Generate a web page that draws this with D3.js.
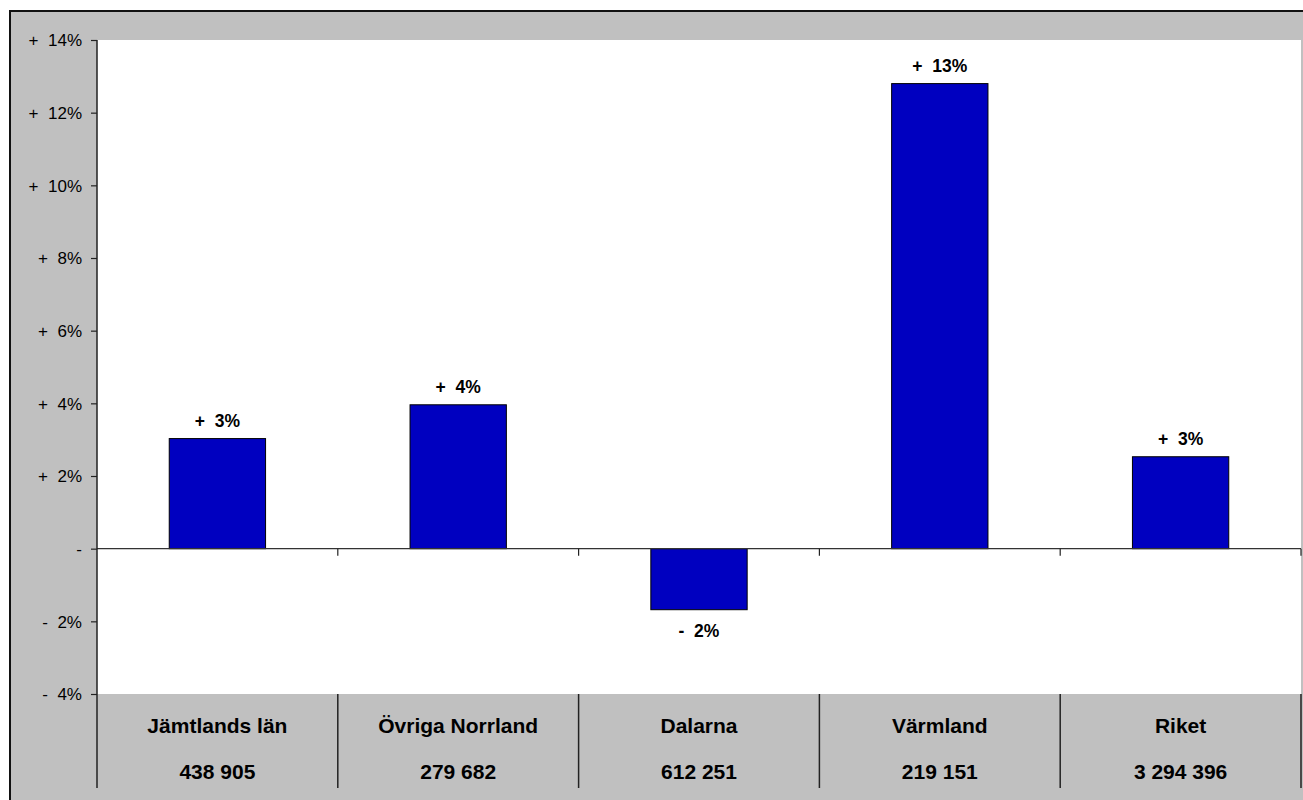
<!DOCTYPE html>
<html><head><meta charset="utf-8">
<script src="https://cdn.jsdelivr.net/npm/d3@7"></script>
<style>
html,body{margin:0;padding:0;background:#fff;overflow:hidden}
text{font-family:"Liberation Sans",Arial,sans-serif;white-space:pre}
</style></head><body>
<svg id="chart" width="1303" height="800"></svg>
<script>
const categories = ["Jämtlands län","Övriga Norrland","Dalarna","Värmland","Riket"];
const totals = ["438 905","279 682","612 251","219 151","3 294 396"];
const changes = [3.03, 3.96, -1.68, 12.8, 2.53];
const yTicks = [-4,-2,0,2,4,6,8,10,12,14];

const svg = d3.select("#chart");
const L = 97, R = 1301, T = 40, B = 694;

// outer grey frame
svg.append("rect").attr("x",10).attr("y",11).attr("width",1303).attr("height",800)
  .attr("fill","#c0c0c0").attr("stroke","#111").attr("stroke-width",2);

const y = d3.scaleLinear().domain([-4,14]).range([B,T]);
const x = d3.scaleBand().domain(categories).range([L,R]).paddingInner(0.6).paddingOuter(0.3);
const step = x.step();

// plot area
svg.append("rect").attr("x",L).attr("y",T).attr("width",R-L).attr("height",B-T).attr("fill","#fff");

// bars
svg.append("g").selectAll("rect").data(changes).join("rect")
  .attr("x",(d,i)=>x(categories[i]))
  .attr("width",x.bandwidth())
  .attr("y",d=>y(Math.max(0,d)))
  .attr("height",d=>Math.abs(y(d)-y(0)))
  .attr("fill","#0000c0").attr("stroke","#000").attr("stroke-width",1);

// zero line
svg.append("line").attr("x1",L).attr("x2",R).attr("y1",y(0)).attr("y2",y(0))
  .attr("stroke","#333").attr("stroke-width",1.2);

// category boundary ticks on zero line and separators below plot
const bounds = d3.range(1,categories.length+1).map(i=>L+i*step);
svg.append("g").selectAll("line").data(bounds).join("line")
  .attr("x1",d=>d).attr("x2",d=>d).attr("y1",y(0)).attr("y2",y(0)+7)
  .attr("stroke","#222").attr("stroke-width",1.2);
svg.append("g").selectAll("line").data(bounds).join("line")
  .attr("x1",d=>d).attr("x2",d=>d).attr("y1",B).attr("y2",788)
  .attr("stroke","#222").attr("stroke-width",1.5);

// y axis
const fmt = v => v===0 ? "-" : (v>0 ? "+  " : "-  ") + Math.abs(v) + "%";
const yAxis = svg.append("g").attr("transform",`translate(${L},0)`)
  .call(d3.axisLeft(y).tickValues(yTicks).tickSize(6).tickPadding(9).tickFormat(fmt));
yAxis.select(".domain").remove();
yAxis.selectAll(".tick line").attr("stroke","#222").attr("stroke-width",1.2);
yAxis.selectAll(".tick text").attr("font-size",17).attr("fill","#000")
  .attr("font-family","Liberation Sans, Arial, sans-serif").attr("dy","0.34em");
svg.append("line").attr("x1",L).attr("x2",L).attr("y1",T).attr("y2",788)
  .attr("stroke","#222").attr("stroke-width",1.5);

// value labels
const vfmt = v => (v>=0 ? "+  " : "-  ") + Math.round(Math.abs(v)) + "%";
svg.append("g").selectAll("text").data(changes).join("text")
  .attr("x",(d,i)=>x(categories[i])+x.bandwidth()/2)
  .attr("y",d=> d>=0 ? y(d)-12 : y(d)+27)
  .attr("text-anchor","middle").attr("font-size",17.5).attr("font-weight","bold").attr("fill","#000")
  .text(vfmt);

// category labels and totals
svg.append("g").selectAll("text").data(categories).join("text")
  .attr("x",d=>x(d)+x.bandwidth()/2).attr("y",733)
  .attr("text-anchor","middle").attr("font-size",21).attr("font-weight","bold").attr("fill","#000")
  .text(d=>d);
svg.append("g").selectAll("text").data(totals).join("text")
  .attr("x",(d,i)=>x(categories[i])+x.bandwidth()/2).attr("y",779)
  .attr("text-anchor","middle").attr("font-size",21).attr("font-weight","bold").attr("fill","#000")
  .text(d=>d);
</script>
</body></html>
